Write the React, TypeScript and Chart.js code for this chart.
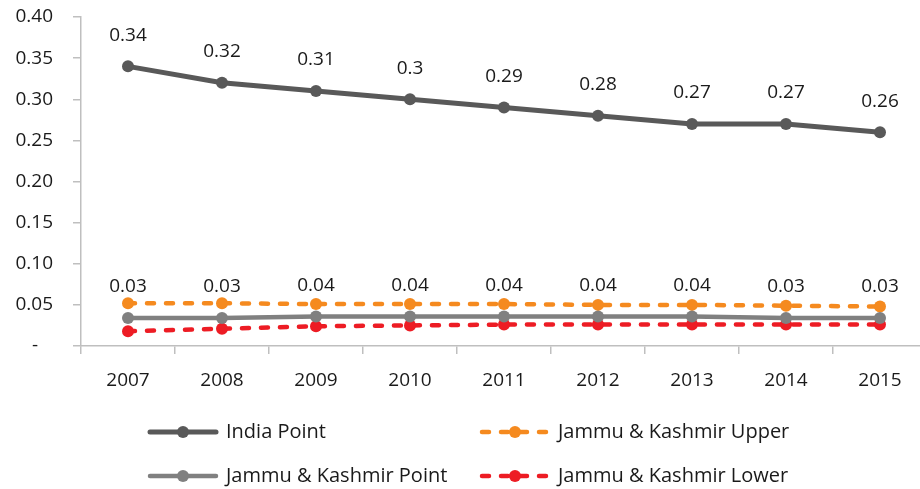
import React, { useEffect, useRef } from "react";
import { Chart, registerables } from "chart.js";

Chart.register(...registerables);

const years = ["2007", "2008", "2009", "2010", "2011", "2012", "2013", "2014", "2015"];
const indiaPoint = [0.34, 0.32, 0.31, 0.3, 0.29, 0.28, 0.27, 0.27, 0.26];
const jkPoint = [0.034, 0.034, 0.036, 0.036, 0.036, 0.036, 0.036, 0.034, 0.034];
const jkUpper = [0.052, 0.052, 0.051, 0.051, 0.051, 0.05, 0.05, 0.049, 0.048];
const jkLower = [0.018, 0.021, 0.024, 0.025, 0.026, 0.026, 0.026, 0.026, 0.026];
const yTicks = [0, 0.05, 0.1, 0.15, 0.2, 0.25, 0.3, 0.35, 0.4];

const FONT = "'Open Sans', 'Noto Sans', sans-serif";
const TEXT = "#1a1a1a";
const AXIS = "#bfbfbf";

const fmt = (v: number) => String(Number(v.toFixed(2)));

const labelPlugin = {
  id: "pointLabels",
  afterDatasetsDraw(chart: any) {
    const ctx = chart.ctx;
    ctx.save();
    ctx.font = `19px ${FONT}`;
    ctx.fillStyle = TEXT;
    ctx.textAlign = "center";
    ctx.textBaseline = "middle";
    chart.data.datasets.forEach((ds: any, i: number) => {
      if (!ds.showLabels) return;
      const meta = chart.getDatasetMeta(i);
      meta.data.forEach((pt: any, j: number) => {
        ctx.fillText(fmt(ds.data[j]), pt.x, pt.y - 31);
      });
    });
    ctx.restore();
  },
};

const legendPlugin = {
  id: "gridLegend",
  afterDraw(chart: any) {
    const ctx = chart.ctx;
    const slots = [
      { idx: 0, x: 148, y: 432 },
      { idx: 2, x: 480, y: 432 },
      { idx: 1, x: 148, y: 476 },
      { idx: 3, x: 480, y: 476 },
    ];
    ctx.save();
    slots.forEach((s) => {
      const ds = chart.data.datasets[s.idx];
      const len = 70;
      ctx.strokeStyle = ds.borderColor;
      ctx.lineWidth = ds.borderWidth;
      ctx.lineCap = "round";
      ctx.setLineDash(ds.borderDash || []);
      ctx.beginPath();
      ctx.moveTo(s.x + 2, s.y);
      ctx.lineTo(s.x + len - 2, s.y);
      ctx.stroke();
      ctx.setLineDash([]);
      ctx.fillStyle = ds.pointBackgroundColor;
      ctx.beginPath();
      ctx.arc(s.x + len / 2, s.y, ds.pointRadius, 0, Math.PI * 2);
      ctx.fill();
      ctx.fillStyle = TEXT;
      ctx.font = `20px ${FONT}`;
      ctx.textAlign = "left";
      ctx.textBaseline = "middle";
      ctx.fillText(ds.label, s.x + len + 8, s.y);
    });
    ctx.restore();
  },
};

export default function App() {
  const ref = useRef<HTMLCanvasElement | null>(null);

  useEffect(() => {
    if (!ref.current) return;
    const chart = new Chart(ref.current, {
      type: "line",
      data: {
        labels: years,
        datasets: [
          {
            label: "India Point",
            data: indiaPoint,
            borderColor: "#595959",
            backgroundColor: "#595959",
            pointBackgroundColor: "#595959",
            borderWidth: 5,
            pointRadius: 6,
            pointBorderWidth: 0,
            showLabels: true,
          } as any,
          {
            label: "Jammu & Kashmir Point",
            data: jkPoint,
            borderColor: "#808080",
            backgroundColor: "#808080",
            pointBackgroundColor: "#808080",
            borderWidth: 4.5,
            pointRadius: 6,
            pointBorderWidth: 0,
            showLabels: true,
          } as any,
          {
            label: "Jammu & Kashmir Upper",
            data: jkUpper,
            borderColor: "#f58a1f",
            backgroundColor: "#f58a1f",
            pointBackgroundColor: "#f58a1f",
            borderWidth: 4.5,
            borderDash: [7, 12],
            borderCapStyle: "round",
            pointRadius: 6,
            pointBorderWidth: 0,
          } as any,
          {
            label: "Jammu & Kashmir Lower",
            data: jkLower,
            borderColor: "#ed1c24",
            backgroundColor: "#ed1c24",
            pointBackgroundColor: "#ed1c24",
            borderWidth: 4.5,
            borderDash: [7, 12],
            borderCapStyle: "round",
            pointRadius: 6,
            pointBorderWidth: 0,
          } as any,
        ],
      },
      options: {
        animation: false,
        responsive: true,
        maintainAspectRatio: false,
        layout: { padding: { left: 0, right: 13, top: 17, bottom: 0 } },
        plugins: {
          legend: { display: false },
          tooltip: { enabled: false },
        },
        scales: {
          x: {
            offset: true,
            grid: {
              offset: true,
              drawOnChartArea: false,
              drawTicks: true,
              tickLength: 8,
              color: AXIS,
              lineWidth: 1.5,
            },
            border: { color: AXIS, width: 1.5 },
            ticks: {
              color: TEXT,
              font: { family: FONT, size: 19 },
              padding: 15,
              maxRotation: 0,
            },
            afterFit(scale: any) {
              scale.height = 143;
            },
          },
          y: {
            min: 0,
            max: 0.4,
            afterBuildTicks(scale: any) {
              scale.ticks = yTicks.map((v) => ({ value: v }));
            },
            grid: {
              drawOnChartArea: false,
              drawTicks: true,
              tickLength: 8,
              color: AXIS,
              lineWidth: 1.5,
            },
            border: { color: AXIS, width: 1.5 },
            ticks: {
              color: TEXT,
              font: { family: FONT, size: 19 },
              padding: 20,
              callback: (v: any) => (Number(v) === 0 ? "-   " : Number(v).toFixed(2)),
            },
            afterFit(scale: any) {
              scale.width = 81;
              scale.paddingTop = 0;
              scale.paddingBottom = 0;
            },
          },
        },
      },
      plugins: [labelPlugin, legendPlugin],
    });
    return () => chart.destroy();
  }, []);

  return (
    <div style={{ position: "fixed", left: 0, top: 0, width: 920, height: 489, overflow: "hidden", background: "#fff" }}>
      <div style={{ position: "relative", width: 940, height: 489 }}>
        <canvas ref={ref} />
      </div>
    </div>
  );
}
